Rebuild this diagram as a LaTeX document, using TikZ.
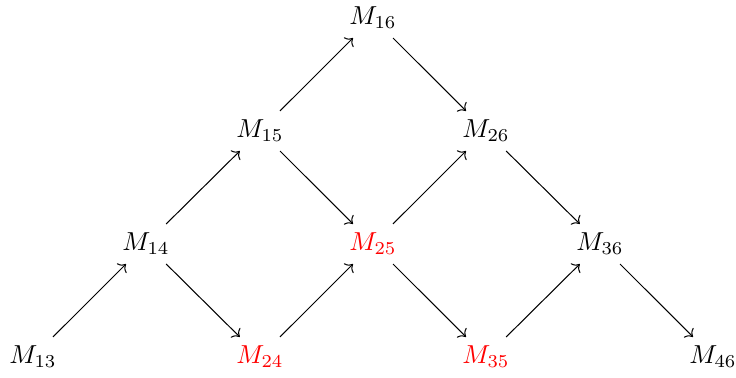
\documentclass[tikz,border=0pt]{standalone}
\usetikzlibrary{cd}
\begin{document}
\begin{tikzpicture}[x=0.3846pt,y=-0.3846pt,
  mnode/.style={inner sep=3.333pt},
  hl/.style={text=red},
  arr/.style={-{cm to},line width=0.4pt}]
\useasboundingbox (0,0) rectangle (736,378);
\node[mnode] (m13) at (33,357) {$M_{13}$};
\node[mnode,hl] (m24) at (260,357) {$M_{24}$};
\node[mnode,hl] (m35) at (486,357) {$M_{35}$};
\node[mnode] (m46) at (713,357) {$M_{46}$};
\node[mnode] (m14) at (146,244) {$M_{14}$};
\node[mnode,hl] (m25) at (373,244) {$M_{25}$};
\node[mnode] (m36) at (600,244) {$M_{36}$};
\node[mnode] (m15) at (260,131) {$M_{15}$};
\node[mnode] (m26) at (486,131) {$M_{26}$};
\node[mnode] (m16) at (373,18) {$M_{16}$};
\draw[arr] (m13) -- (m14);
\draw[arr] (m14) -- (m24);
\draw[arr] (m14) -- (m15);
\draw[arr] (m24) -- (m25);
\draw[arr] (m15) -- (m25);
\draw[arr] (m15) -- (m16);
\draw[arr] (m25) -- (m35);
\draw[arr] (m25) -- (m26);
\draw[arr] (m16) -- (m26);
\draw[arr] (m26) -- (m36);
\draw[arr] (m35) -- (m36);
\draw[arr] (m36) -- (m46);
\end{tikzpicture}
\end{document}
